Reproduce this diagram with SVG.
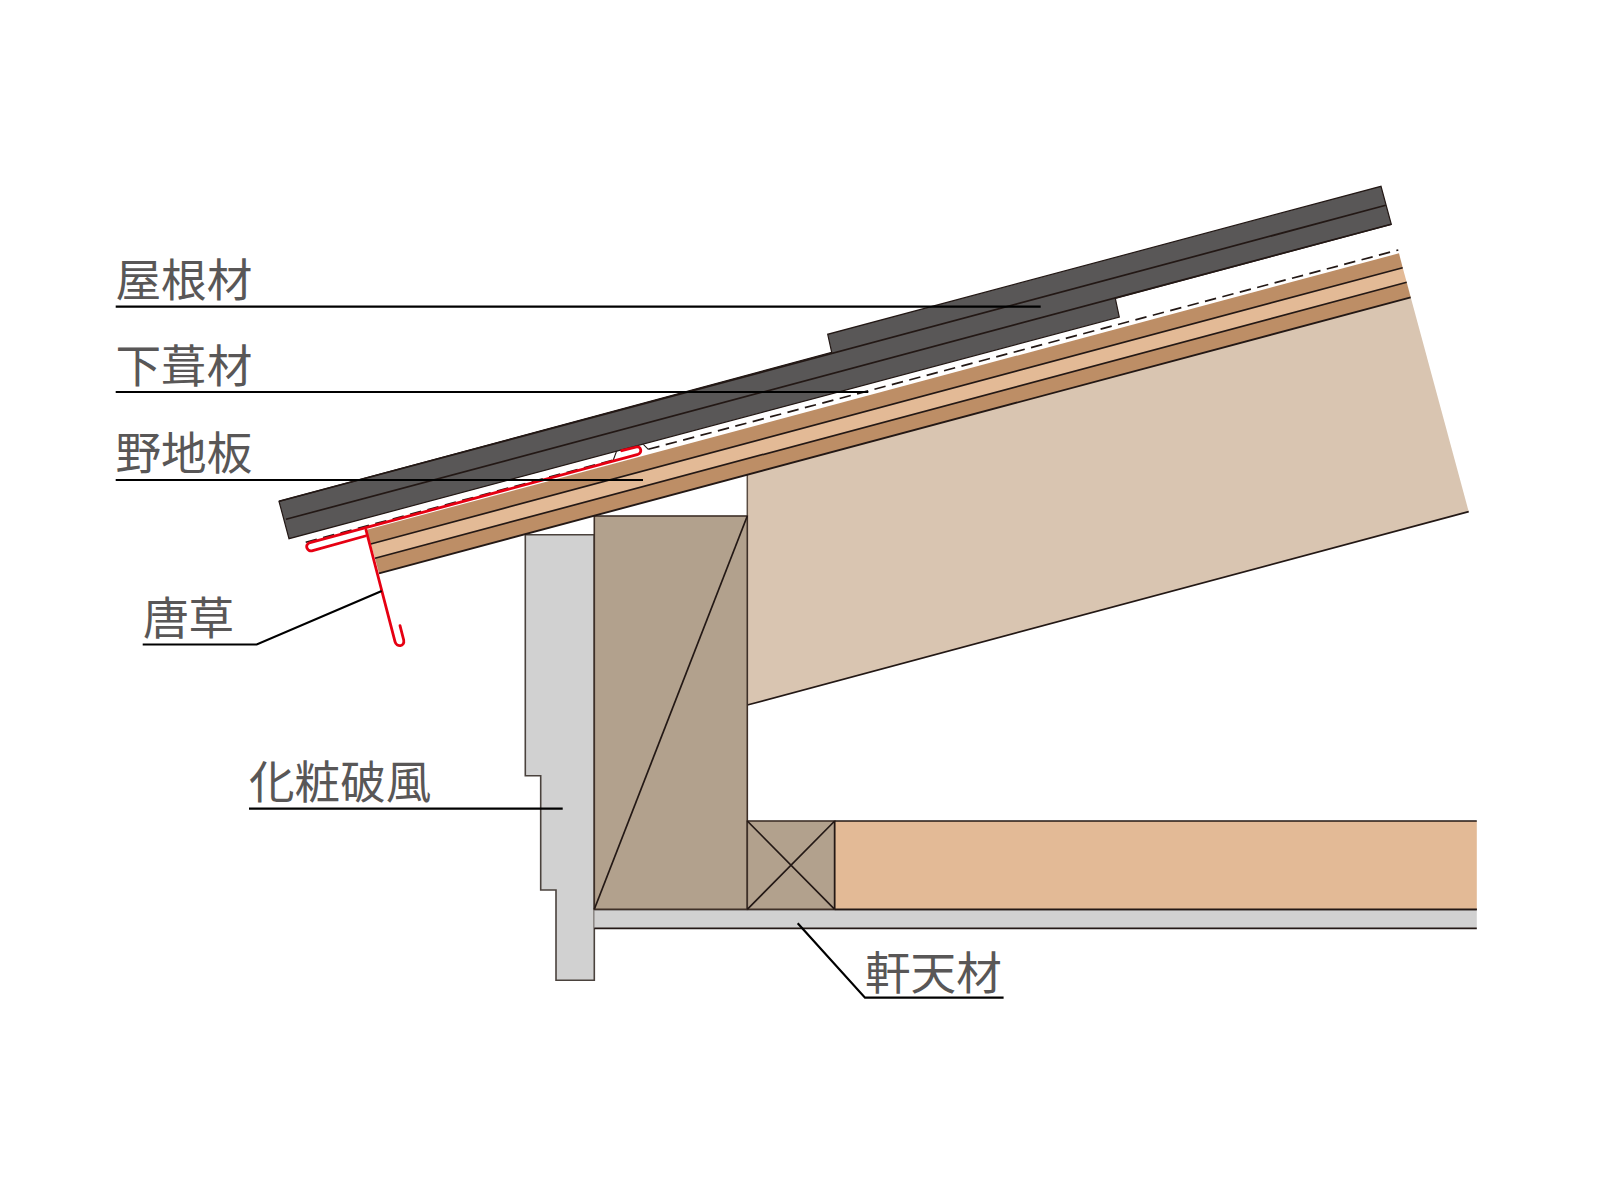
<svg xmlns="http://www.w3.org/2000/svg" width="1620" height="1187" viewBox="0 0 1620 1187">
<defs><style>
.ln{stroke:#231815;stroke-width:1.7;fill:none}
.lead{stroke:#000;stroke-width:2.2;fill:none}
.lbl{font-family:"Noto Sans CJK JP","Noto Sans CJK SC",sans-serif;font-size:45.6px;fill:#595757}
.red{stroke:#e60012;stroke-width:2.8;fill:none;stroke-linejoin:round;stroke-linecap:round}
.dash{stroke:#231815;stroke-width:1.7;fill:none;stroke-dasharray:11.5 6.5}
</style></defs>
<rect width="1620" height="1187" fill="#fff"/>
<g id="rafter">
<polygon points="747.3,474.8 1410.7,297.3 1468.7,511.6 747.3,705" fill="#d9c5b1"/>
<path class="ln" d="M747.3,705L1468.7,511.6"/>
<path d="M747.3,474.8V516" stroke="#5a4c42" stroke-width="1.5" fill="none"/>
</g>
<g id="fascia">
<polygon points="525.3,534.7 594.3,534.7 594.3,980.3 556,980.3 556,890 540.7,890 540.7,775.7 525.3,775.7" fill="#d1d1d1" stroke="#4a423d" stroke-width="1.6"/>
</g>
<g id="soffit">
<rect x="594.3" y="909.3" width="882.5" height="19" fill="#d1d1d1"/>
<path class="ln" d="M594.3,909.3H1476.8M594.3,928.3H1476.8"/>
</g>
<g id="post">
<rect x="594.3" y="516" width="153" height="393.3" fill="#b2a18d" stroke="#3e3028" stroke-width="1.6"/>
<path class="ln" d="M594.3,909.3L747.3,516"/>
</g>
<g id="block">
<rect x="747.3" y="821" width="87.4" height="88.3" fill="#b2a18d" stroke="#3e3028" stroke-width="1.6"/>
<path class="ln" d="M747.3,821L834.7,909.3M834.7,821L747.3,909.3"/>
</g>
<g id="joist">
<rect x="834.7" y="821" width="642.1" height="88.3" fill="#e3ba96"/>
<path class="ln" d="M834.7,821H1476.8M834.7,909.3H1476.8M834.7,821V909.3"/>
</g>
<g id="sheathing">
<polygon points="366,530 1399,253.3 1402.7,267.7 370.7,544" fill="#bd8e66"/>
<polygon points="370.7,544 1402.7,267.7 1406.7,282.3 375,558.3" fill="#e3ba96"/>
<polygon points="375,558.3 1406.7,282.3 1410.7,297.3 379,573.3" fill="#bd8e66"/>
<path class="ln" d="M370.7,544L1402.7,267.7M375,558.3L1406.7,282.3"/>
<path class="ln" style="stroke-width:1.9" d="M379,573.3L1410.7,297.3"/>
</g>
<g id="underlayment">
<path class="dash" d="M305.7,542.3L613.3,460M648.3,449.3L1398.3,250"/>
<path class="ln" style="stroke-width:1.1" d="M613.3,460L616.7,450.7L621.7,450M643.3,444.3L648.3,449.3"/>
</g>
<g id="roofing">
<polygon points="279,501.3 831.7,352.3 827.7,334.3 1381,186.3 1391.3,224.3 1115.3,298.3 1119.3,317 289,538.7" fill="#595757" stroke="#231815" stroke-width="1.2"/>
<path class="ln" d="M279,501.3L1385.7,205.3M286,519.3L1391.3,224.3"/>
</g>
<g id="flashing">
<path class="red" d="M621.7,450.7L636.5,447C641,446 642.5,452.5 638,454.3L310,542.7C304,544.5 307,552.5 312.7,550.7L365.3,536"/>
<path class="red" d="M366,530L395,641.7C396.5,647.5 405,647 403.7,640L400,625.7"/>
</g>
<g id="connectors">
<path class="lead" d="M115.7,306.7H1040.7"/>
<path class="lead" d="M115.7,392H868.3"/>
<path class="lead" d="M115.7,480H643"/>
<path class="lead" d="M142.7,644.5H256.7L381.7,591"/>
<path class="lead" d="M249,808.7H562.7"/>
<path class="lead" d="M1003.6,997.7H865L797.7,923.3"/>
</g>
<g id="labels">
<text class="lbl" x="115.5" y="297">屋根材</text>
<text class="lbl" x="115.5" y="382.5">下葺材</text>
<text class="lbl" x="115.5" y="469.5">野地板</text>
<text class="lbl" x="143" y="635">唐草</text>
<text class="lbl" x="249" y="798.5">化粧破風</text>
<text class="lbl" x="865" y="990">軒天材</text>
</g>
</svg>
